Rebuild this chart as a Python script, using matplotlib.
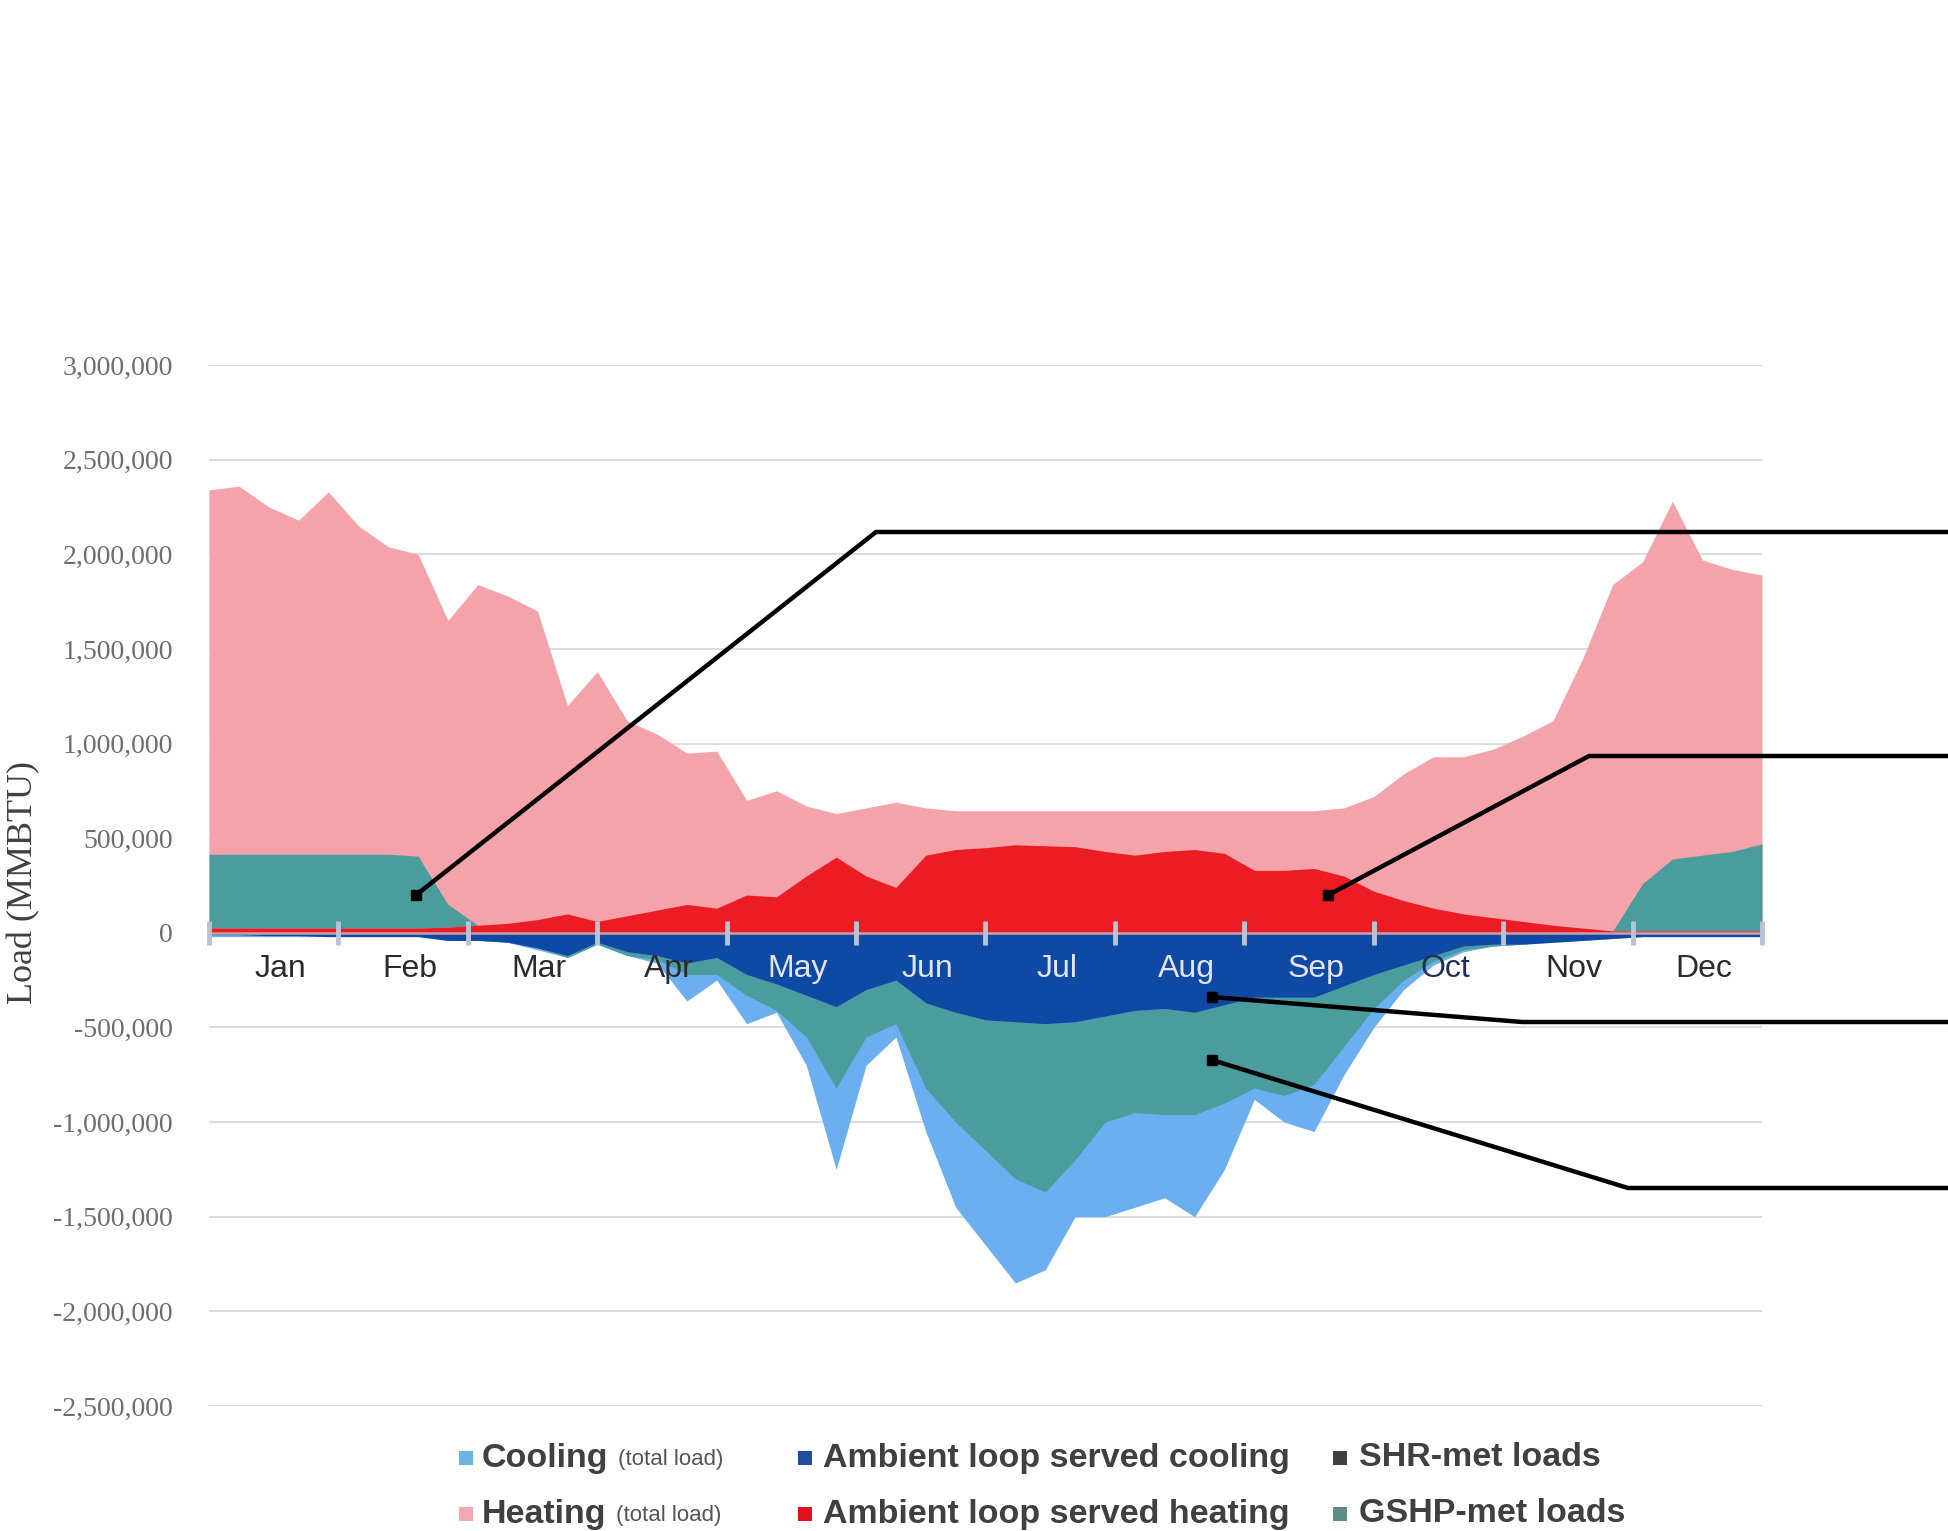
import numpy as np
import matplotlib
matplotlib.use("Agg")
import matplotlib.pyplot as plt
from matplotlib.patches import Rectangle
from matplotlib.lines import Line2D
from matplotlib.ticker import FuncFormatter
from matplotlib import font_manager

# ---------------- data (MMBTU, in millions), weekly samples ----------------
months = ["Jan", "Feb", "Mar", "Apr", "May", "Jun", "Jul", "Aug", "Sep", "Oct", "Nov", "Dec"]

heating_total = [2.34, 2.36, 2.25, 2.18, 2.33, 2.15, 2.04, 2.00, 1.65, 1.84,
                 1.78, 1.70, 1.20, 1.38, 1.12, 1.05, 0.95, 0.96, 0.70, 0.75,
                 0.67, 0.63, 0.66, 0.69, 0.66, 0.645, 0.645, 0.645, 0.645, 0.645,
                 0.645, 0.645, 0.645, 0.645, 0.645, 0.645, 0.645, 0.645, 0.66, 0.72,
                 0.84, 0.93, 0.93, 0.97, 1.04, 1.12, 1.45, 1.84, 1.96, 2.28,
                 1.97, 1.92, 1.89]

ambient_heating = [0.025, 0.025, 0.025, 0.025, 0.025, 0.025, 0.025, 0.025, 0.03, 0.04,
                   0.05, 0.07, 0.10, 0.06, 0.09, 0.12, 0.15, 0.13, 0.20, 0.19,
                   0.30, 0.40, 0.30, 0.24, 0.41, 0.44, 0.45, 0.465, 0.46, 0.455,
                   0.43, 0.41, 0.43, 0.44, 0.42, 0.33, 0.33, 0.34, 0.30, 0.22,
                   0.17, 0.13, 0.10, 0.08, 0.06, 0.04, 0.025, 0.01, 0.01, 0.01,
                   0.01, 0.01, 0.01]

gshp_heating = [0.39, 0.39, 0.39, 0.39, 0.39, 0.39, 0.39, 0.38, 0.12, 0.0,
                0.0, 0.0, 0.0, 0.0, 0.0, 0.0, 0.0, 0.0, 0.0, 0.0,
                0.0, 0.0, 0.0, 0.0, 0.0, 0.0, 0.0, 0.0, 0.0, 0.0,
                0.0, 0.0, 0.0, 0.0, 0.0, 0.0, 0.0, 0.0, 0.0, 0.0,
                0.0, 0.0, 0.0, 0.0, 0.0, 0.0, 0.0, 0.0, 0.25, 0.38,
                0.40, 0.42, 0.46]

cooling_total = [0.02, 0.02, 0.02, 0.02, 0.02, 0.02, 0.02, 0.02, 0.04, 0.04,
                 0.05, 0.09, 0.13, 0.06, 0.12, 0.16, 0.36, 0.25, 0.48, 0.42,
                 0.70, 1.25, 0.70, 0.55, 1.05, 1.45, 1.65, 1.85, 1.78, 1.50,
                 1.50, 1.45, 1.40, 1.50, 1.25, 0.88, 1.00, 1.05, 0.75, 0.50,
                 0.30, 0.17, 0.10, 0.07, 0.06, 0.05, 0.04, 0.03, 0.02, 0.02,
                 0.02, 0.02, 0.02]

ambient_cooling = [0.01, 0.01, 0.015, 0.015, 0.02, 0.02, 0.02, 0.02, 0.04, 0.04,
                   0.05, 0.08, 0.12, 0.05, 0.10, 0.12, 0.16, 0.13, 0.22, 0.27,
                   0.33, 0.39, 0.30, 0.25, 0.37, 0.42, 0.46, 0.47, 0.48, 0.47,
                   0.44, 0.41, 0.40, 0.42, 0.38, 0.34, 0.34, 0.34, 0.28, 0.22,
                   0.17, 0.12, 0.07, 0.06, 0.06, 0.05, 0.04, 0.03, 0.02, 0.02,
                   0.02, 0.02, 0.02]

gshp_cooling = [0.0, 0.0, 0.0, 0.0, 0.0, 0.0, 0.0, 0.0, 0.0, 0.0,
                0.0, 0.0, 0.01, 0.01, 0.02, 0.02, 0.06, 0.09, 0.11, 0.14,
                0.22, 0.43, 0.25, 0.23, 0.45, 0.58, 0.69, 0.83, 0.89, 0.73,
                0.56, 0.54, 0.56, 0.54, 0.52, 0.48, 0.52, 0.46, 0.32, 0.18,
                0.08, 0.03, 0.02, 0.01, 0.0, 0.0, 0.0, 0.0, 0.0, 0.0,
                0.0, 0.0, 0.0]

y_ticks = [3000000, 2500000, 2000000, 1500000, 1000000, 500000, 0,
           -500000, -1000000, -1500000, -2000000, -2500000]

legend_rows = [
    [("Cooling", "(total load)", "#6DB3E4"),
     ("Ambient loop served cooling", "", "#1F4E9C"),
     ("SHR-met loads", "", "#404040")],
    [("Heating", "(total load)", "#F4A7B0"),
     ("Ambient loop served heating", "", "#E3101D"),
     ("GSHP-met loads", "", "#5E8E84")],
]

# ---------------- styling ----------------
C_PINK = "#F5A3AA"
C_RED = "#EC1C24"
C_TEAL = "#4B9C9C"
C_LBLUE = "#6CAFF0"
C_DBLUE = "#0E49A3"

W, H = 1949, 1531
fig = plt.figure(figsize=(W / 100, H / 100), dpi=100)
fig.patch.set_facecolor("white")

ax_l, ax_r, ax_t, ax_b = 209, 1762, 365, 1406
ax = fig.add_axes([ax_l / W, 1 - ax_b / H, (ax_r - ax_l) / W, (ax_b - ax_t) / H])

n = len(heating_total)
x = np.arange(n) * 12.0 / (n - 1)
M = 1e6
ht = np.array(heating_total) * M
ah = np.array(ambient_heating) * M
gh = np.array(gshp_heating) * M
ct = np.array(cooling_total) * M
ac = np.array(ambient_cooling) * M
gc = np.array(gshp_cooling) * M

ax.fill_between(x, 0, ht, color=C_PINK, lw=0, zorder=1)
ax.fill_between(x, ah, ah + gh, color=C_TEAL, lw=0, zorder=1.1)
ax.fill_between(x, 0, ah, color=C_RED, lw=0, zorder=1.2)
ax.fill_between(x, 0, -ct, color=C_LBLUE, lw=0, zorder=1)
ax.fill_between(x, -ac, -(ac + gc), color=C_TEAL, lw=0, zorder=1.1)
ax.fill_between(x, 0, -ac, color=C_DBLUE, lw=0, zorder=1.2)

ax.set_xlim(0, 12)
ax.set_ylim(-2500000, 3000000)

# grid
ax.set_yticks(y_ticks)
ax.yaxis.grid(True, color="#D9D9D9", lw=1.3)
ax.set_axisbelow(True)
ax.xaxis.set_zorder(5)
ax.yaxis.set_major_formatter(FuncFormatter(lambda v, p: f"{v:,.0f}"))
ax.tick_params(axis="y", length=0, pad=26, labelsize=20, labelcolor="#6E6E6E")
for lbl in ax.get_yticklabels():
    lbl.set_family("Liberation Serif")

for s in ["top", "right", "left"]:
    ax.spines[s].set_visible(False)
ax.spines["bottom"].set_position(("data", 0))
ax.spines["bottom"].set_color("#C9A0A8")
ax.spines["bottom"].set_linewidth(1.8)
ax.spines["bottom"].set_zorder(4)

ax.set_xticks(np.arange(13))
ax.set_xticks(np.arange(12) + 0.55, minor=True)
ax.set_xticklabels([])
ax.set_xticklabels(months, minor=True)
ax.tick_params(axis="x", which="major", direction="inout", length=17, width=3.5,
               color="#B9C3D4")
ax.tick_params(axis="x", which="minor", length=0, pad=15, labelsize=23)
label_colors = ["#2B2B2B", "#2B2B2B", "#2B2B2B", "#2B2B2B", "#E4E4F6", "#E4E4F6",
                "#E4E4F6", "#E4E4F6", "#E4E4F6", "#1E2F55", "#2B2B2B", "#2B2B2B"]
for lbl, c in zip(ax.get_xticklabels(minor=True), label_colors):
    lbl.set_color(c)
    lbl.set_family("Liberation Sans")

fig.text(24 / W, 1 - 882 / H, "Load (MMBTU)", rotation=90, ha="center", va="center",
         fontsize=26, family="Liberation Serif", color="#404040")

# ---------------- callout lines ----------------
to_fig = fig.transFigure.inverted()
callouts = [
    ((1.60, 200000), (876 / W, 1 - 532 / H)),
    ((8.65, 200000), (1589 / W, 1 - 756 / H)),
    ((7.75, -339000), (1522 / W, 1 - 1022 / H)),
    ((7.75, -672000), (1628 / W, 1 - 1188 / H)),
]
for (dx, dy), (bx, by) in callouts:
    sx, sy = to_fig.transform(ax.transData.transform((dx, dy)))
    line = Line2D([sx, bx, 1.0], [sy, by, by], transform=fig.transFigure,
                  color="black", lw=3.2, solid_joinstyle="miter", zorder=10)
    fig.add_artist(line)
    mk = Line2D([sx], [sy], transform=fig.transFigure, marker="s", markersize=7,
                color="black", zorder=11)
    fig.add_artist(mk)

# ---------------- legend ----------------
names = {f.name for f in font_manager.fontManager.ttflist}
if "Liberation Sans Narrow" in names:
    lfam, lsize, ssize = "Liberation Sans Narrow", 29, 19
else:
    lfam, lsize, ssize = "Liberation Sans", 24.5, 16

renderer = fig.canvas.get_renderer()
row_y = [1458, 1514]
col_marker_x = [466, 805, 1340]
col_text_x = [482, 823, 1359]
msz = 14
for r, row in enumerate(legend_rows):
    yc = 1 - row_y[r] / H
    for c, (main, small, color) in enumerate(row):
        mx = col_marker_x[c]
        fig.add_artist(Rectangle(((mx - msz / 2) / W, yc - (msz / 2) / H), msz / W, msz / H,
                                 transform=fig.transFigure, facecolor=color,
                                 edgecolor="none"))
        t = fig.text(col_text_x[c] / W, yc, main, ha="left", va="center",
                     fontsize=lsize, family=lfam, weight="bold", color="#404040")
        if small:
            bb = t.get_window_extent(renderer)
            fig.text((bb.x1 + 10) / W, yc - 2 / H, small, ha="left", va="center",
                     fontsize=ssize, family=lfam, color="#555555")

fig.savefig("out.png", dpi=100, facecolor="white")
